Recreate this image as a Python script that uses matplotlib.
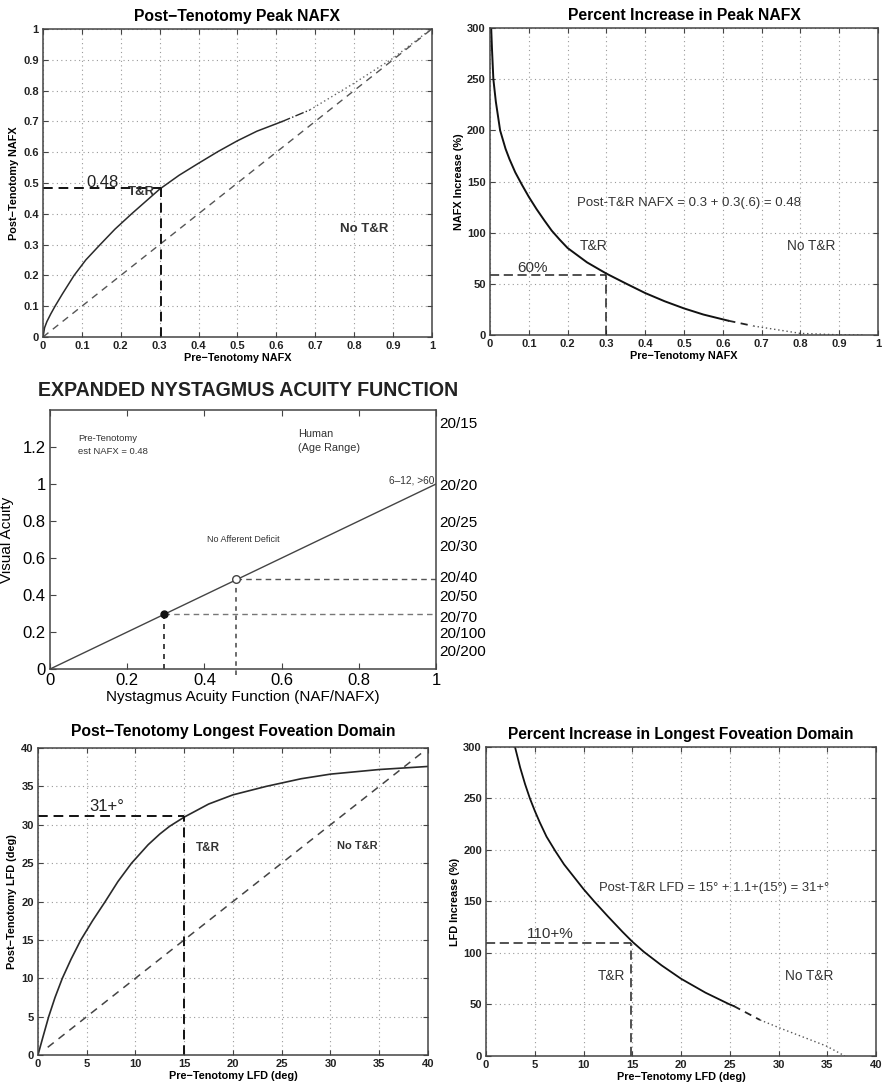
import matplotlib.pyplot as plt
import numpy as np

plt.rcParams['font.family'] = ['Liberation Sans', 'DejaVu Sans']

# ---------------- data ----------------
# Post-Tenotomy Peak NAFX
nafx_pre = [0, 0.004, 0.01, 0.02, 0.031, 0.05, 0.08, 0.11, 0.147, 0.185, 0.228, 0.3,
            0.35, 0.4, 0.45, 0.5, 0.55, 0.614]
nafx_post = [0, 0.03, 0.05, 0.075, 0.1, 0.14, 0.2, 0.25, 0.3, 0.35, 0.4, 0.48,
             0.525, 0.564, 0.602, 0.637, 0.668, 0.699]
nafx_pre_dd = [0.614, 0.686]
nafx_post_dd = [0.699, 0.737]
nafx_pre_dot = [0.686, 0.8, 0.9, 0.995]
nafx_post_dot = [0.737, 0.824, 0.905, 0.997]
diag_nafx = [0, 1]

# Percent increase in peak NAFX
pct_pre = [0.003, 0.005, 0.0086, 0.015, 0.026, 0.04, 0.05, 0.065, 0.082, 0.1, 0.12, 0.14,
           0.159, 0.18, 0.2, 0.25, 0.3, 0.352, 0.4, 0.45, 0.5, 0.55, 0.6, 0.614]
pct_val = [300, 280, 250, 228, 200, 182, 172, 159, 147, 135, 123, 112,
           102, 93, 85, 71, 60, 50, 41, 33, 26, 20, 15.3, 14]
pct_pre_dash = [0.614, 0.679]
pct_val_dash = [14, 8.8]
pct_pre_dot = [0.679, 0.8, 0.9, 0.96]
pct_val_dot = [8.8, 1.6, 0.2, 0]

# Expanded nystagmus acuity function
naf_line = [0, 1]
acuity_line = [0, 1]
pre_pt = (0.295, 0.295)
post_pt = (0.482, 0.486)
snellen_vals = [20/15, 1.0, 0.8, 20/30, 0.5, 0.4, 20/70, 0.2, 0.1]
snellen_labels = ['20/15', '20/20', '20/25', '20/30', '20/40', '20/50', '20/70', '20/100', '20/200']

# Post-Tenotomy LFD
lfd_pre = [0, 0.5, 1.1, 1.75, 2.5, 3.4, 4.4, 5.6, 6.9, 8.2, 9.6, 11.3, 12.5, 13.5, 15,
           17.5, 20, 23.4, 27, 30, 35, 40]
lfd_post = [0, 2.3, 5, 7.5, 10, 12.5, 15, 17.5, 20, 22.6, 25, 27.4, 28.8, 29.8, 31.0,
            32.7, 33.9, 35, 36, 36.6, 37.2, 37.6]
diag_lfd = [1, 39.7]

# Percent increase in LFD
lpct_pre = [2.97, 3.5, 4, 4.5, 5, 5.5, 6.2, 7.1, 8, 9, 10, 11.1, 12.5, 14, 15, 16.2,
            18, 20, 22.5, 25, 25.4]
lpct_val = [300, 280, 264, 250, 238, 227, 213, 199, 186, 174, 162, 150, 135.5, 120.5, 111, 101,
            88, 75, 61.5, 50, 48.5]
lpct_pre_dash = [25.4, 28.1]
lpct_val_dash = [48.5, 35]
lpct_pre_dot = [28.1, 30.2, 34.9, 36.8]
lpct_val_dot = [35, 26.9, 9.7, 0]

LC = '#2a2a2a'
GC = '#9a9a9a'


def style_ax(ax, xt, yt, grid=True, fs=8):
    ax.set_xticks(xt)
    ax.set_yticks(yt)
    ax.tick_params(direction='in', length=3.5, top=True, right=True, labelsize=fs,
                   width=0.8, color='#444444', pad=3)
    for s in ax.spines.values():
        s.set_linewidth(1.1)
        s.set_color('#444444')
    if grid:
        ax.grid(True, linestyle=(0, (1, 3)), color=GC, linewidth=0.8)


def bold_ticks(ax):
    for lab in ax.get_xticklabels() + ax.get_yticklabels():
        lab.set_fontweight('bold')
        lab.set_color('#222222')


tl_nafx = ['0', '0.1', '0.2', '0.3', '0.4', '0.5', '0.6', '0.7', '0.8', '0.9', '1']

fig = plt.figure(figsize=(8.85, 10.87), dpi=100)

# ---------- panel 1 ----------
ax1 = fig.add_axes([0.0486, 0.69, 0.4395, 0.2834])
ax1.plot(nafx_pre, nafx_post, color=LC, lw=1.1)
ax1.plot(nafx_pre_dd, nafx_post_dd, color=LC, lw=1.0, ls='-.')
ax1.plot(nafx_pre_dot, nafx_post_dot, color='#666666', lw=1.0, ls=(0, (1, 2)))
ax1.plot(diag_nafx, diag_nafx, color='#555555', lw=1.0, ls=(0, (5, 4)))
ax1.plot([0, 0.303], [0.482, 0.482], color='#111111', lw=1.4, ls=(0, (5, 3)))
ax1.plot([0.303, 0.303], [0, 0.482], color='#111111', lw=1.4, ls=(0, (5, 3)))
ax1.text(0.111, 0.488, '0.48', fontsize=12, color='#222222')
ax1.text(0.218, 0.469, 'T&R', fontsize=9.5, fontweight='bold', color='#333333', va='center')
ax1.text(0.763, 0.349, 'No T&R', fontsize=9.5, fontweight='bold', color='#333333', va='center')
ax1.set_xlim(0, 1)
ax1.set_ylim(0, 1)
style_ax(ax1, np.arange(0, 1.01, 0.1), np.arange(0, 1.01, 0.1))
ax1.set_xticklabels(tl_nafx)
ax1.set_yticklabels(tl_nafx)
bold_ticks(ax1)
ax1.set_title('Post\u2212Tenotomy Peak NAFX', fontsize=11.3, fontweight='bold', pad=6)
ax1.set_xlabel('Pre\u2212Tenotomy NAFX', fontsize=7.8, fontweight='bold', labelpad=1)
ax1.set_ylabel('Post\u2212Tenotomy NAFX', fontsize=7.8, fontweight='bold', labelpad=3)

# ---------- panel 2 ----------
ax2 = fig.add_axes([0.5537, 0.6918, 0.4384, 0.2824])
ax2.plot(pct_pre, pct_val, color='#111111', lw=1.4)
ax2.plot(pct_pre_dash, pct_val_dash, color='#222222', lw=1.3, ls=(0, (4, 3)))
ax2.plot(pct_pre_dot, pct_val_dot, color='#555555', lw=1.0, ls=(0, (1, 2)))
ax2.plot([0, 0.3], [59, 59], color='#222222', lw=1.1, ls=(0, (6, 3)))
ax2.plot([0.3, 0.3], [0, 59], color='#222222', lw=1.1, ls=(0, (6, 3)))
ax2.text(0.07, 62, '60%', fontsize=11, color='#333333')
ax2.text(0.23, 87, 'T&R', fontsize=10, color='#333333', va='center')
ax2.text(0.766, 87, 'No T&R', fontsize=9.8, color='#333333', va='center')
ax2.text(0.223, 129.5, 'Post-T&R NAFX = 0.3 + 0.3(.6) = 0.48', fontsize=9.5, color='#333333',
         va='center')
ax2.set_xlim(0, 1)
ax2.set_ylim(0, 300)
style_ax(ax2, np.arange(0, 1.01, 0.1), np.arange(0, 301, 50))
ax2.set_xticklabels(tl_nafx)
bold_ticks(ax2)
ax2.set_title('Percent Increase in Peak NAFX', fontsize=11.3, fontweight='bold', pad=6)
ax2.set_xlabel('Pre\u2212Tenotomy NAFX', fontsize=7.8, fontweight='bold', labelpad=1)
ax2.set_ylabel('NAFX Increase (%)', fontsize=7.8, fontweight='bold', labelpad=2)

# ---------- panel 3 ----------
ax3 = fig.add_axes([0.0565, 0.3845, 0.4362, 0.2383])
ax3.plot(naf_line, acuity_line, color='#444444', lw=1.0)
ax3.plot([pre_pt[0], pre_pt[0]], [0, pre_pt[1]], color='#222222', lw=1.2, ls=(0, (3, 3)))
ax3.plot([pre_pt[0], 1], [pre_pt[1], pre_pt[1]], color='#777777', lw=1.0, ls=(0, (4, 3)))
ax3.plot([post_pt[0], post_pt[0]], [-0.03, post_pt[1]], color='#444444', lw=1.1, ls=(0, (3, 3)),
         clip_on=False)
ax3.plot([post_pt[0], 1], [post_pt[1], post_pt[1]], color='#555555', lw=1.0, ls=(0, (4, 3)))
ax3.plot(*pre_pt, 'o', color='#111111', ms=5, zorder=5)
ax3.plot(*post_pt, 'o', mfc='white', mec='#444444', ms=5.5, mew=1.0, zorder=5)
ax3.text(0.073, 1.27, 'Pre-Tenotomy\nest NAFX = 0.48', fontsize=6.8, color='#333333', va='top',
         linespacing=1.5)
ax3.text(0.643, 1.3, 'Human\n(Age Range)', fontsize=7.8, color='#333333', va='top',
         linespacing=1.5)
ax3.text(0.995, 1.02, '6\u201312, >60', fontsize=7.3, color='#333333', ha='right', va='center')
ax3.text(0.406, 0.70, 'No Afferent Deficit', fontsize=6.5, color='#333333', va='center')
ax3.set_xlim(0, 1)
ax3.set_ylim(0, 1.4)
style_ax(ax3, [0, 0.2, 0.4, 0.6, 0.8, 1], [0, 0.2, 0.4, 0.6, 0.8, 1, 1.2], grid=False, fs=12)
ax3.set_xticklabels(['0', '0.2', '0.4', '0.6', '0.8', '1'])
ax3.set_yticklabels(['0', '0.2', '0.4', '0.6', '0.8', '1', '1.2'])
ax3.tick_params(length=4)
ax3.set_xlabel('Nystagmus Acuity Function (NAF/NAFX)', fontsize=11, labelpad=1)
ax3.set_ylabel('Visual Acuity', fontsize=11, labelpad=6)
ax3r = ax3.twinx()
ax3r.set_ylim(0, 1.4)
ax3r.set_yticks(snellen_vals)
ax3r.set_yticklabels(snellen_labels, fontsize=11)
ax3r.tick_params(length=0, pad=2)
for s in ax3r.spines.values():
    s.set_visible(False)
fig.text(0.043, 0.641, 'EXPANDED NYSTAGMUS ACUITY FUNCTION', fontsize=14.1, fontweight='bold',
         va='center', color='#222222')

# ---------- panel 4 ----------
ax4 = fig.add_axes([0.0429, 0.02944, 0.4407, 0.2824])
ax4.plot(lfd_pre, lfd_post, color=LC, lw=1.2)
ax4.plot(diag_lfd, diag_lfd, color='#444444', lw=1.1, ls=(0, (5, 4)))
ax4.plot([0, 15.0], [31.2, 31.2], color='#111111', lw=1.4, ls=(0, (5, 3)))
ax4.plot([15.0, 15.0], [0, 31.2], color='#111111', lw=1.4, ls=(0, (5, 3)))
ax4.text(5.3, 31.8, '31+\u00b0', fontsize=12, color='#222222')
ax4.text(16.2, 27, 'T&R', fontsize=8.5, fontweight='bold', color='#333333', va='center')
ax4.text(30.7, 27.2, 'No T&R', fontsize=8, fontweight='bold', color='#333333', va='center')
ax4.set_xlim(0, 40)
ax4.set_ylim(0, 40)
style_ax(ax4, np.arange(0, 41, 5), np.arange(0, 41, 5))
bold_ticks(ax4)
ax4.set_title('Post\u2212Tenotomy Longest Foveation Domain', fontsize=11.3, fontweight='bold', pad=9)
ax4.set_xlabel('Pre\u2212Tenotomy LFD (deg)', fontsize=7.8, fontweight='bold', labelpad=1)
ax4.set_ylabel('Post\u2212Tenotomy LFD (deg)', fontsize=7.8, fontweight='bold', labelpad=3)

# ---------- panel 5 ----------
ax5 = fig.add_axes([0.5492, 0.02852, 0.4407, 0.2843])
ax5.plot(lpct_pre, lpct_val, color='#111111', lw=1.3)
ax5.plot(lpct_pre_dash, lpct_val_dash, color='#222222', lw=1.3, ls=(0, (4, 3)))
ax5.plot(lpct_pre_dot, lpct_val_dot, color='#555555', lw=1.0, ls=(0, (1, 2)))
ax5.plot([0, 14.9], [110, 110], color='#222222', lw=1.1, ls=(0, (6, 3)))
ax5.plot([14.9, 14.9], [0, 110], color='#222222', lw=1.1, ls=(0, (6, 3)))
ax5.text(4.2, 115, '110+%', fontsize=11, color='#333333')
ax5.text(11.5, 77.5, 'T&R', fontsize=9.8, color='#333333', va='center')
ax5.text(30.7, 77.5, 'No T&R', fontsize=9.8, color='#333333', va='center')
ax5.text(11.6, 163, 'Post-T&R LFD = 15\u00b0 + 1.1+(15\u00b0) = 31+\u00b0', fontsize=9.4,
         color='#333333', va='center')
ax5.set_xlim(0, 40)
ax5.set_ylim(0, 300)
style_ax(ax5, np.arange(0, 41, 5), np.arange(0, 301, 50))
bold_ticks(ax5)
ax5.set_title('Percent Increase in Longest Foveation Domain', fontsize=11.2, fontweight='bold',
              pad=6)
ax5.set_xlabel('Pre\u2212Tenotomy LFD (deg)', fontsize=7.8, fontweight='bold', labelpad=1)
ax5.set_ylabel('LFD Increase (%)', fontsize=7.8, fontweight='bold', labelpad=2)

fig.savefig('out.png', dpi=100)
